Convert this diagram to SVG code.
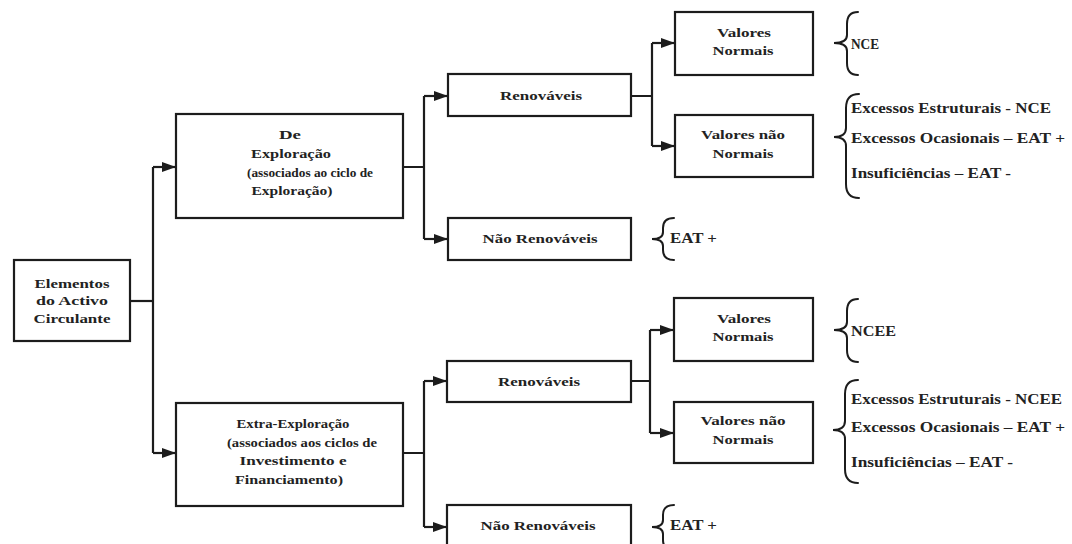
<svg xmlns="http://www.w3.org/2000/svg" width="1072" height="544" viewBox="0 0 1072 544">
  <style>
    .box { fill: #ffffff; stroke: #1c1c1c; stroke-width: 2.2; }
    .link { fill: none; stroke: #1c1c1c; stroke-width: 2.2; }
    .brace { fill: none; stroke: #1c1c1c; stroke-width: 2; stroke-linecap: round; }
    text { font-family: "Liberation Serif", "Times New Roman", serif; font-size: 13px; font-weight: bold; fill: #222222; dominant-baseline: central; }
    .c { text-anchor: middle; }
    .l { text-anchor: start; font-size: 14px; }
  </style>
  <defs>
    <marker id="arrow" viewBox="0 0 14 10" refX="14" refY="5" markerWidth="14" markerHeight="10" markerUnits="userSpaceOnUse" orient="auto">
      <path d="M0,0 L14,5 L0,10 Z" fill="#1c1c1c"/>
    </marker>
  </defs>

  <rect width="1072" height="544" fill="#ffffff"/>

  <!-- connectors -->
  <g id="connectors">
    <path class="link" d="M130,301 H153"/>
    <path class="link" d="M153,167 V453"/>
    <path class="link" d="M153,167 H176" marker-end="url(#arrow)"/>
    <path class="link" d="M153,453 H176" marker-end="url(#arrow)"/>

    <path class="link" d="M403,167 H424 M424,96 V239"/>
    <path class="link" d="M424,96 H448" marker-end="url(#arrow)"/>
    <path class="link" d="M424,239 H448" marker-end="url(#arrow)"/>

    <path class="link" d="M631,96 H652 M652,43 V146"/>
    <path class="link" d="M652,43 H675" marker-end="url(#arrow)"/>
    <path class="link" d="M652,146 H675" marker-end="url(#arrow)"/>

    <path class="link" d="M403,453 H424 M424,381 V527"/>
    <path class="link" d="M424,381 H447" marker-end="url(#arrow)"/>
    <path class="link" d="M424,527 H447" marker-end="url(#arrow)"/>

    <path class="link" d="M631,381 H650 M650,330 V433"/>
    <path class="link" d="M650,330 H674" marker-end="url(#arrow)"/>
    <path class="link" d="M650,433 H674" marker-end="url(#arrow)"/>
  </g>

  <!-- root -->
  <g id="elementos">
    <rect class="box" x="14" y="260" width="116" height="81"/>
    <text class="c" x="72" y="283" textLength="75" lengthAdjust="spacingAndGlyphs">Elementos</text>
    <text class="c" x="72" y="300" textLength="72" lengthAdjust="spacingAndGlyphs">do Activo</text>
    <text class="c" x="72" y="318" textLength="77" lengthAdjust="spacingAndGlyphs">Circulante</text>
  </g>

  <!-- first level -->
  <g id="exploracao">
    <rect class="box" x="176" y="114" width="227" height="104"/>
    <text class="c" x="290" y="134" textLength="22" lengthAdjust="spacingAndGlyphs">De</text>
    <text class="c" x="291" y="153" textLength="80" lengthAdjust="spacingAndGlyphs">Exploração</text>
    <text class="c" x="310" y="172" textLength="126" lengthAdjust="spacingAndGlyphs">(associados ao ciclo de</text>
    <text class="c" x="292" y="190" textLength="81" lengthAdjust="spacingAndGlyphs">Exploração)</text>
  </g>

  <g id="extra-exploracao">
    <rect class="box" x="176" y="403" width="227" height="103"/>
    <text class="c" x="293" y="423" textLength="113" lengthAdjust="spacingAndGlyphs">Extra-Exploração</text>
    <text class="c" x="302" y="442" textLength="150" lengthAdjust="spacingAndGlyphs">(associados aos ciclos de</text>
    <text class="c" x="293" y="460" textLength="107" lengthAdjust="spacingAndGlyphs">Investimento e</text>
    <text class="c" x="289" y="479" textLength="108" lengthAdjust="spacingAndGlyphs">Financiamento)</text>
  </g>

  <!-- second level, upper branch -->
  <g id="renovaveis-1">
    <rect class="box" x="448" y="74" width="183" height="42"/>
    <text class="c" x="541" y="95" textLength="82" lengthAdjust="spacingAndGlyphs">Renováveis</text>
  </g>
  <g id="nao-renovaveis-1">
    <rect class="box" x="448" y="218" width="183" height="42"/>
    <text class="c" x="540" y="238" textLength="115" lengthAdjust="spacingAndGlyphs">Não Renováveis</text>
  </g>

  <!-- second level, lower branch -->
  <g id="renovaveis-2">
    <rect class="box" x="447" y="361" width="184" height="41"/>
    <text class="c" x="539" y="381" textLength="82" lengthAdjust="spacingAndGlyphs">Renováveis</text>
  </g>
  <g id="nao-renovaveis-2">
    <rect class="box" x="447" y="505" width="184" height="46"/>
    <text class="c" x="538" y="525" textLength="115" lengthAdjust="spacingAndGlyphs">Não Renováveis</text>
  </g>

  <!-- third level, upper branch -->
  <g id="valores-normais-1">
    <rect class="box" x="675" y="12" width="138" height="63"/>
    <text class="c" x="744" y="32" textLength="54" lengthAdjust="spacingAndGlyphs">Valores</text>
    <text class="c" x="743" y="50" textLength="61" lengthAdjust="spacingAndGlyphs">Normais</text>
  </g>
  <g id="valores-nao-normais-1">
    <rect class="box" x="675" y="115" width="138" height="62"/>
    <text class="c" x="743" y="134" textLength="84" lengthAdjust="spacingAndGlyphs">Valores não</text>
    <text class="c" x="743" y="153" textLength="61" lengthAdjust="spacingAndGlyphs">Normais</text>
  </g>

  <!-- third level, lower branch -->
  <g id="valores-normais-2">
    <rect class="box" x="674" y="298" width="139" height="63"/>
    <text class="c" x="744" y="318" textLength="54" lengthAdjust="spacingAndGlyphs">Valores</text>
    <text class="c" x="743" y="336" textLength="61" lengthAdjust="spacingAndGlyphs">Normais</text>
  </g>
  <g id="valores-nao-normais-2">
    <rect class="box" x="674" y="402" width="139" height="61"/>
    <text class="c" x="743" y="420" textLength="85" lengthAdjust="spacingAndGlyphs">Valores não</text>
    <text class="c" x="743" y="439" textLength="61" lengthAdjust="spacingAndGlyphs">Normais</text>
  </g>

  <!-- classifications with braces, upper branch -->
  <g id="nota-nce">
    <path class="brace" d="M858,12 Q847,12 847,24 V35 Q847,43 834,43 Q847,43 847,51 V63 Q847,75 858,75"/>
    <text class="l" x="851" y="44" textLength="28" lengthAdjust="spacingAndGlyphs">NCE</text>
  </g>
  <g id="nota-excessos-1">
    <path class="brace" d="M859,94 Q846,94 846,108 V128 Q846,137 834,137 Q846,137 846,146 V184 Q846,198 859,198"/>
    <text class="l" x="851" y="108" textLength="200" lengthAdjust="spacingAndGlyphs">Excessos Estruturais - NCE</text>
    <text class="l" x="851" y="138" textLength="214" lengthAdjust="spacingAndGlyphs">Excessos Ocasionais – EAT +</text>
    <text class="l" x="851" y="173" textLength="160" lengthAdjust="spacingAndGlyphs">Insuficiências – EAT -</text>
  </g>
  <g id="nota-eat-1">
    <path class="brace" d="M674,218 Q663,218 663,228 V232 Q663,239 652,239 Q663,239 663,246 V250 Q663,260 674,260"/>
    <text class="l" x="670" y="238" textLength="47" lengthAdjust="spacingAndGlyphs">EAT +</text>
  </g>

  <!-- classifications with braces, lower branch -->
  <g id="nota-ncee">
    <path class="brace" d="M858,299 Q847,299 847,311 V322 Q847,330 834,330 Q847,330 847,338 V350 Q847,362 858,362"/>
    <text class="l" x="851" y="331" textLength="45" lengthAdjust="spacingAndGlyphs">NCEE</text>
  </g>
  <g id="nota-excessos-2">
    <path class="brace" d="M858,380 Q845,380 845,394 V421 Q845,430 833,430 Q845,430 845,439 V469 Q845,483 858,483"/>
    <text class="l" x="851" y="399" textLength="211" lengthAdjust="spacingAndGlyphs">Excessos Estruturais - NCEE</text>
    <text class="l" x="851" y="427" textLength="214" lengthAdjust="spacingAndGlyphs">Excessos Ocasionais – EAT +</text>
    <text class="l" x="851" y="462" textLength="162" lengthAdjust="spacingAndGlyphs">Insuficiências – EAT -</text>
  </g>
  <g id="nota-eat-2">
    <path class="brace" d="M674,505 Q663,505 663,515 V520 Q663,527 652,527 Q663,527 663,534 V540 Q663,550 674,550"/>
    <text class="l" x="670" y="525" textLength="47" lengthAdjust="spacingAndGlyphs">EAT +</text>
  </g>
</svg>
